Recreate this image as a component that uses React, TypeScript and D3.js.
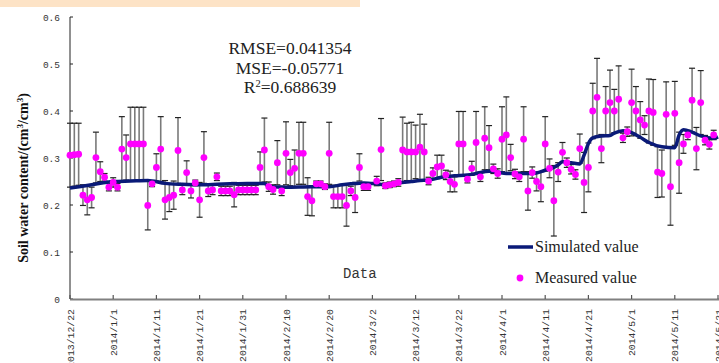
import * as React from "react";
import { scaleLinear, scaleTime, timeDay, timeParse, line, curveMonotoneX } from "d3";

const startDate = "2013/12/22";

// x tick labels (every 10 days)
const xTickLabels = [
  "2013/12/22", "2014/1/1", "2014/1/11", "2014/1/21", "2014/1/31", "2014/2/10",
  "2014/2/20", "2014/3/2", "2014/3/12", "2014/3/22", "2014/4/1", "2014/4/11",
  "2014/4/21", "2014/5/1", "2014/5/11", "2014/5/21",
];
const yTicks = [0, 0.1, 0.2, 0.3, 0.4, 0.5, 0.6];
const yTickLabels = ["0", "0.1", "0.2", "0.3", "0.4", "0.5", "0.6"];

// measured values: day offset from start, value, error
const measuredDay = [
  0, 1, 2, 3, 4, 5, 6, 7, 8, 9, 10, 11, 12, 13, 14, 15, 16, 17, 18, 19,
  20, 21, 22, 23, 24, 25, 26, 27, 28, 29, 30, 31, 32, 33, 34, 35, 36, 37, 38, 39,
  40, 41, 42, 43, 44, 45, 46, 47, 48, 49, 50, 51, 52, 53, 54, 55, 56, 57, 58, 59,
  60, 61, 62, 63, 64, 65, 66, 67, 68, 69, 71, 72, 73, 74, 75, 76, 77, 78, 79, 80,
  81, 82, 83, 84, 85, 86, 87, 88, 89, 90, 91, 92, 93, 94, 95, 96, 97, 98, 99, 100,
  101, 102, 103, 104, 105, 106, 107, 108, 109, 110, 111, 112, 113, 114, 115, 116, 117, 118, 119, 120,
  121, 122, 123, 124, 125, 126, 127, 128, 129, 130, 131, 132, 133, 134, 135, 136, 137, 138, 139, 140,
  141, 142, 143, 144, 145, 146, 147, 148, 149,
];
const measuredValue = [
  0.306, 0.307, 0.308, 0.221, 0.211, 0.216, 0.301, 0.271, 0.259, 0.238, 0.248, 0.238, 0.319, 0.301, 0.33, 0.33, 0.33, 0.33, 0.199, 0.245,
  0.28, 0.319, 0.211, 0.216, 0.221, 0.316, 0.232, 0.269, 0.23, 0.247, 0.211, 0.301, 0.23, 0.232, 0.26, 0.23, 0.23, 0.23, 0.222, 0.232,
  0.232, 0.232, 0.232, 0.232, 0.28, 0.317, 0.239, 0.233, 0.29, 0.23, 0.31, 0.269, 0.278, 0.31, 0.31, 0.218, 0.209, 0.245, 0.245, 0.239,
  0.31, 0.218, 0.218, 0.218, 0.199, 0.23, 0.216, 0.28, 0.239, 0.239, 0.251, 0.318, 0.241, 0.243, 0.245, 0.248, 0.317, 0.313, 0.313, 0.313,
  0.323, 0.313, 0.251, 0.267, 0.281, 0.283, 0.264, 0.25, 0.244, 0.33, 0.33, 0.255, 0.278, 0.333, 0.26, 0.342, 0.322, 0.277, 0.267, 0.34,
  0.349, 0.301, 0.266, 0.26, 0.34, 0.23, 0.269, 0.25, 0.239, 0.33, 0.278, 0.209, 0.27, 0.312, 0.29, 0.276, 0.265, 0.32, 0.248, 0.28,
  0.4, 0.429, 0.32, 0.4, 0.418, 0.4, 0.425, 0.343, 0.356, 0.418, 0.4, 0.381, 0.37, 0.4, 0.397, 0.27, 0.267, 0.393, 0.239, 0.395,
  0.29, 0.33, 0.349, 0.423, 0.32, 0.418, 0.338, 0.329, 0.349,
];
const measuredError = [
  0.068, 0.067, 0.066, 0.022, 0.032, 0.022, 0.054, 0.021, 0.008, 0.008, 0.01, 0.008, 0.069, 0.048, 0.078, 0.078, 0.078, 0.078, 0.052, 0.006,
  0.029, 0.069, 0.041, 0.03, 0.03, 0.07, 0.01, 0.025, 0.015, 0.006, 0.037, 0.055, 0.012, 0.01, 0.008, 0.01, 0.01, 0.01, 0.026, 0.01,
  0.01, 0.01, 0.01, 0.01, 0.033, 0.068, 0.01, 0.01, 0.047, 0.01, 0.067, 0.028, 0.039, 0.066, 0.066, 0.04, 0.032, 0.006, 0.006, 0.006,
  0.066, 0.024, 0.024, 0.024, 0.044, 0.01, 0.032, 0.029, 0.008, 0.008, 0.01, 0.066, 0.006, 0.006, 0.006, 0.008, 0.07, 0.061, 0.063, 0.057,
  0.07, 0.059, 0.008, 0.012, 0.025, 0.023, 0.01, 0.022, 0.016, 0.069, 0.069, 0.008, 0.015, 0.066, 0.01, 0.067, 0.047, 0.01, 0.01, 0.069,
  0.081, 0.028, 0.01, 0.01, 0.069, 0.041, 0.012, 0.02, 0.032, 0.058, 0.02, 0.075, 0.02, 0.021, 0.01, 0.01, 0.01, 0.031, 0.064, 0.052,
  0.059, 0.083, 0.03, 0.052, 0.069, 0.046, 0.071, 0.01, 0.01, 0.071, 0.052, 0.039, 0.02, 0.068, 0.07, 0.054, 0.05, 0.069, 0.082, 0.068,
  0.065, 0.02, 0.01, 0.068, 0.045, 0.068, 0.01, 0.01, 0.01,
];

// simulated values: day offset from start, value
const simDay = [
  0, 5, 10, 14, 18, 22, 26, 30, 34, 37, 41, 45, 46, 50, 56, 60, 63, 65, 68, 71,
  73, 76, 79, 81, 83, 86, 89, 92, 94, 97, 99, 101, 104, 107, 110, 112, 113, 114, 116, 118,
  119, 120, 121, 123, 125, 126, 128, 130, 132, 134, 137, 140, 141, 142, 144, 146, 149, 150,
];
const simValue = [
  0.236, 0.243, 0.25, 0.251, 0.252, 0.246, 0.244, 0.243, 0.244, 0.245, 0.246, 0.246, 0.239, 0.238, 0.239, 0.239, 0.243, 0.245, 0.247, 0.245,
  0.243, 0.247, 0.25, 0.252, 0.253, 0.259, 0.262, 0.264, 0.267, 0.272, 0.27, 0.267, 0.267, 0.267, 0.274, 0.28, 0.285, 0.292, 0.29, 0.287,
  0.306, 0.331, 0.343, 0.347, 0.348, 0.353, 0.358, 0.354, 0.344, 0.333, 0.324, 0.322, 0.349, 0.36, 0.355, 0.347, 0.342, 0.345,
];

const W = 719;
const H = 363;
const serif = "'Liberation Serif', 'Times New Roman', serif";
const mono = "'Liberation Mono', 'DejaVu Sans Mono', monospace";
const navy = "#0a1a78";
const magenta = "#ff00ff";

export default function App() {
  const parse = timeParse("%Y/%m/%d");
  const start = parse(startDate) as Date;
  const xDates = xTickLabels.map((s) => parse(s) as Date);
  const x = scaleTime()
    .domain([start, xDates[xDates.length - 1]])
    .range([70, 718]);
  const y = scaleLinear().domain([0, 0.6]).range([299, 17]);
  const dx = (d: number) => x(timeDay.offset(start, d));

  const simLine = line<number>()
    .x((d, i) => dx(simDay[i]))
    .y((d) => y(d))
    .curve(curveMonotoneX);

  return (
    <svg
      width={W}
      height={H}
      style={{ position: "fixed", left: 0, top: 0, background: "#fff" }}
    >
      <rect x={0} y={0} width={W} height={H} fill="#fff" />
      <rect x={0} y={0} width={360} height={7} fill="#fde3c6" />

      {/* y axis */}
      <line x1={70} x2={70} y1={y(0.6)} y2={y(0)} stroke="#222" strokeWidth={1} />
      {yTicks.map((t, i) => (
        <g key={"yt" + i}>
          <line x1={70} x2={73} y1={y(t)} y2={y(t)} stroke="#222" />
          <text
            x={60}
            y={y(t) + 3.5}
            textAnchor="end"
            fontFamily={mono}
            fontSize={9.5}
            fill="#333"
          >
            {yTickLabels[i]}
          </text>
        </g>
      ))}

      {/* x axis */}
      <line x1={70} x2={W} y1={299.5} y2={299.5} stroke="#808080" strokeWidth={2} />
      {xDates.map((d, i) => (
        <g key={"xt" + i}>
          <line x1={x(d)} x2={x(d)} y1={299} y2={295} stroke="#555" strokeWidth={1.2} />
          <text
            transform={`translate(${x(d) + 3.5},309) rotate(-90)`}
            textAnchor="end"
            fontFamily={mono}
            fontSize={9.8}
            fill="#333"
          >
            {xTickLabels[i]}
          </text>
        </g>
      ))}

      {/* error bars */}
      {measuredDay.map((d, i) => {
        const cx = dx(d);
        const top = y(measuredValue[i] + measuredError[i]);
        const bot = y(measuredValue[i] - measuredError[i]);
        return (
          <g key={"eb" + i}>
            <line x1={cx} x2={cx} y1={top} y2={bot} stroke="#7a7a7a" strokeWidth={1.6} />
            <line x1={cx - 3} x2={cx + 3} y1={top} y2={top} stroke="#222" strokeWidth={1.2} />
            <line x1={cx - 3} x2={cx + 3} y1={bot} y2={bot} stroke="#222" strokeWidth={1.2} />
          </g>
        );
      })}

      {/* simulated line */}
      <path d={simLine(simValue) || ""} fill="none" stroke={navy} strokeWidth={3.5} />

      {/* measured points */}
      {measuredDay.map((d, i) => (
        <circle key={"pt" + i} cx={dx(d)} cy={y(measuredValue[i])} r={3.4} fill={magenta} />
      ))}

      {/* stats */}
      <g fontFamily={serif} fontSize={17.5} fill="#222" textAnchor="middle">
        <text x={290} y={54}>RMSE=0.041354</text>
        <text x={290} y={74}>MSE=-0.05771</text>
        <text x={290} y={93}>
          R<tspan fontSize={10.5} dy={-6}>2</tspan>
          <tspan dy={6}>=0.688639</tspan>
        </text>
      </g>

      {/* y title */}
      <text
        transform="translate(28,178) rotate(-90)"
        textAnchor="middle"
        fontFamily={serif}
        fontWeight="bold"
        fontSize={14}
        fill="#111"
      >
        Soil water content/(cm<tspan fontSize={9} dy={-5}>3</tspan>
        <tspan dy={5}>/cm</tspan>
        <tspan fontSize={9} dy={-5}>3</tspan>
        <tspan dy={5}>)</tspan>
      </text>

      <text x={343} y={278} fontFamily={mono} fontSize={14} fill="#333">
        Data
      </text>

      {/* legend */}
      <line x1={508} x2={533} y1={247} y2={247} stroke={navy} strokeWidth={3.5} />
      <text x={535} y={252} fontFamily={serif} fontSize={16} fill="#222">
        Simulated value
      </text>
      <circle cx={520} cy={278} r={3.4} fill={magenta} />
      <text x={535} y={283} fontFamily={serif} fontSize={16} fill="#222">
        Measured value
      </text>
    </svg>
  );
}
